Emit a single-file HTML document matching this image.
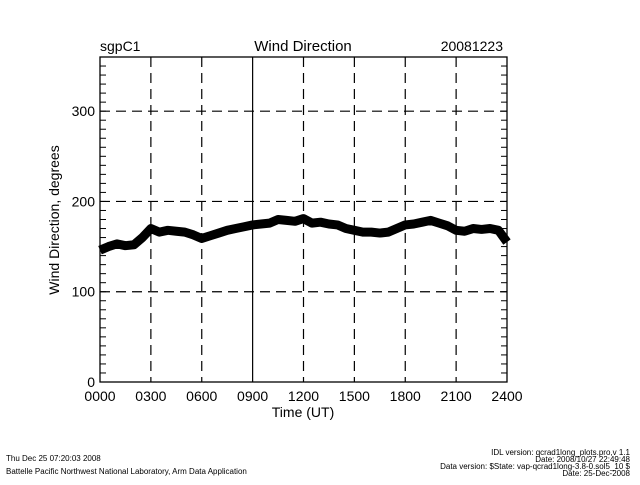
<!DOCTYPE html>
<html><head><meta charset="utf-8"><style>
body{margin:0;background:#fff;}
svg text{font-family:"Liberation Sans",sans-serif;fill:#000;}
</style></head><body>
<svg width="640" height="480" xmlns="http://www.w3.org/2000/svg">
<rect width="640" height="480" fill="#fff"/>
<g id="grid"></g>
<g id="ticks"></g>
<g id="data"></g>
<rect x="100" y="57" width="407" height="325" fill="none" stroke="#000" stroke-width="1.3"/>
<g id="labels"></g>
<text x="100" y="51" font-size="14">sgpC1</text>
<text x="303" y="51" font-size="15" text-anchor="middle">Wind Direction</text>
<text x="503" y="51" font-size="14" text-anchor="end">20081223</text>
<text x="303" y="417" font-size="14" text-anchor="middle">Time (UT)</text>
<text transform="translate(59,220) rotate(-90)" font-size="14" text-anchor="middle">Wind Direction, degrees</text>
<text x="6" y="461" font-size="8">Thu Dec 25 07:20:03 2008</text>
<text x="6" y="474" font-size="8">Battelle Pacific Northwest National Laboratory, Arm Data Application</text>
<g font-size="8" text-anchor="end">
<text x="630" y="455">IDL version: qcrad1long_plots.pro,v 1.1</text>
<text x="630" y="462">Date: 2008/10/27 22:49:48</text>
<text x="630" y="469">Data version: $State: vap-qcrad1long-3.8-0.sol5_10 $</text>
<text x="630" y="476">Date: 25-Dec-2008</text>
</g>
</svg>
<script>
const hours=[0,0.5,1,1.5,2,2.5,3,3.5,4,4.5,5,5.5,6,6.5,7,7.5,8,8.5,9,9.5,10,10.5,11,11.5,12,12.5,13,13.5,14,14.5,15,15.5,16,16.5,17,17.5,18,18.5,19,19.5,20,20.5,21,21.5,22,22.5,23,23.5,24];
const degs=[146,150,153,151,152,160,170,166,168,167,166,163,159,162,165,168,170,172,174,175,176,180,179,178,181,176,177,175,174,170,168,166,166,165,166,170,174,175,177,179,176,173,168,167,170,169,170,168,155];
const xTicks=["0000","0300","0600","0900","1200","1500","1800","2100","2400"];
const yTicks=[0,100,200,300];
const L=100,R=507,T=57,B=382,YMAX=360;
const xs=h=>L+h/24*(R-L);
const ys=d=>B-d/YMAX*(B-T);
const NS="http://www.w3.org/2000/svg";
function mk(tag,attrs,parent){const e=document.createElementNS(NS,tag);for(const k in attrs)e.setAttribute(k,attrs[k]);document.getElementById(parent).appendChild(e);return e;}
xTicks.forEach((t,i)=>{
 const h=i*3,x=xs(h);
 if(i>0&&i<8){const l=mk('line',{x1:x,x2:x,y1:T,y2:B,stroke:'#000','stroke-width':1.2,'stroke-dasharray':h===9?'none':'10,6'},'grid');
 
 }
 const tx=mk('text',{x:x,y:401,'font-size':14,'text-anchor':'middle'},'labels');tx.textContent=t;
 
 
});
yTicks.forEach(v=>{
 const y=ys(v);
 if(v>0){const l=mk('line',{x1:L,x2:R,y1:y,y2:y,stroke:'#000','stroke-width':1.2,'stroke-dasharray':'10,6'},'grid');
 
 }
 const tx=mk('text',{x:95,y:y+5,'font-size':14,'text-anchor':'end'},'labels');tx.textContent=v;
 
 
});
for(let v=10;v<YMAX;v+=10){const y=ys(v);
 const a=mk('line',{x1:L,x2:L+6,y1:y,y2:y,stroke:'#000','stroke-width':1},'ticks');
 
 
 const b=mk('line',{x1:R-6,x2:R,y1:y,y2:y,stroke:'#000','stroke-width':1},'ticks');
 
 }
const pts=hours.map((h,i)=>xs(h)+','+ys(degs[i])).join(' ');
const pl=mk('polyline',{points:pts,fill:'none',stroke:'#000','stroke-width':9,'stroke-linejoin':'round'},'data');


</script>
</body></html>
